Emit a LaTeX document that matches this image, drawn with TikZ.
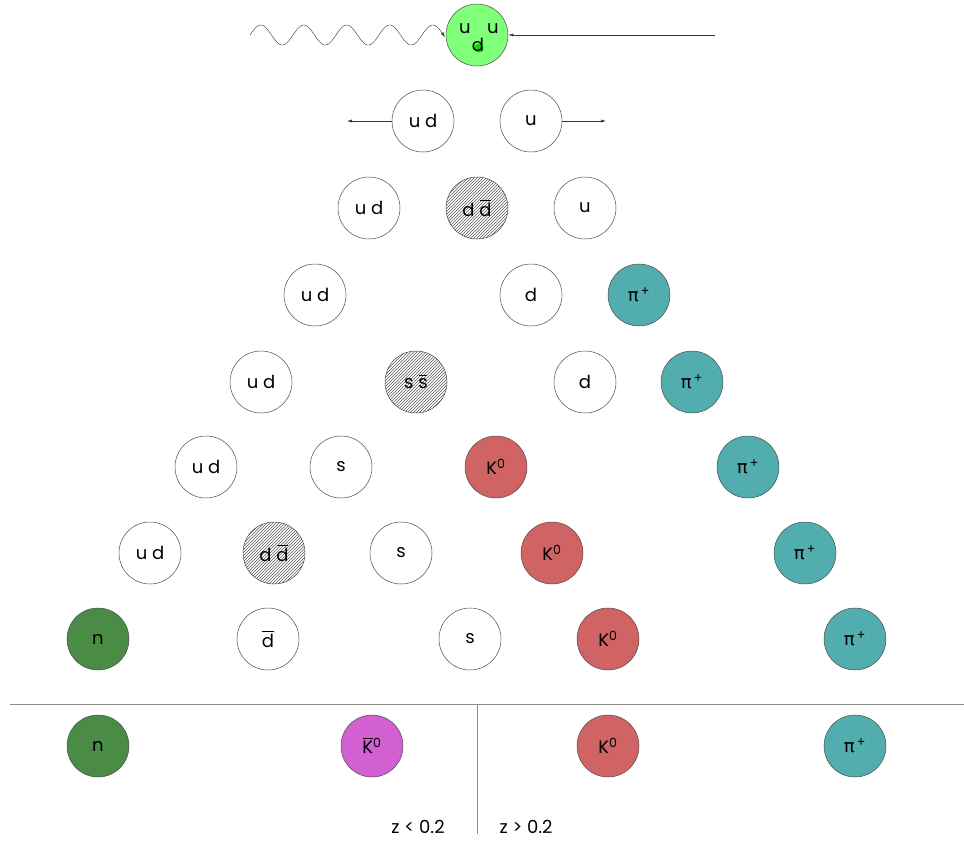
\documentclass[tikz,border=0pt]{standalone}
\usepackage{fontspec}
\setmainfont{Poppins}
\newfontfamily\greekfont{DejaVu Sans}
\usetikzlibrary{patterns}
\usetikzlibrary{arrows.meta}

\definecolor{protongreen}{RGB}{128,255,122}
\definecolor{dotgreen}{RGB}{0,220,0}
\definecolor{neutrongreen}{RGB}{74,140,69}
\definecolor{piontel}{RGB}{82,174,174}
\definecolor{kaonred}{RGB}{208,100,100}
\definecolor{kaonbarmag}{RGB}{210,96,210}

\tikzset{
  hadron/.style={circle, draw=black!70, line width=0.5pt, minimum size=62pt,
    inner sep=0pt, font=\fontsize{18}{18}\selectfont},
  mixed/.style={hadron, pattern=north east lines, pattern color=black!65},
  arr/.style={-{Latex[length=5pt,width=3pt]}, black!80, line width=0.5pt},
  cut/.style={black!45, line width=0.7pt},
  label/.style={font=\fontsize{18}{18}\selectfont}
}

% antiquark bar, set a little above the letter
\newcommand{\anti}[1]{\leavevmode\setbox0\hbox{#1}%
  \rlap{\kern0.5pt\raisebox{\dimexpr\ht0+2.5pt\relax}{\rule{\dimexpr\wd0-1pt\relax}{0.8pt}}}\box0}
\newcommand{\piplus}{{\greekfont π}\textsuperscript{\,+}}
\newcommand{\kzero}{K\textsuperscript{0}}
\newcommand{\kzerobar}{\anti{K}\textsuperscript{0}}

\begin{document}
\begin{tikzpicture}[x=1pt,y=-1pt]
\useasboundingbox (0,0) rectangle (964,844);

% incoming proton, photon and beam
\node[hadron, fill=protongreen] (p) at (477,35) {};
\fill[dotgreen] (479,48) circle (4.5);
\node[label] (pu1) at (465,29) {u};
\node[label] (pu2) at (493,29) {u};
\node[label] (pd) at (478,45) {d};
\coordinate (beam) at (715,35);
\draw[arr] (beam) -- (p.east);
\draw[arr, line width=0.4pt] plot[domain=250:445, samples=200]
    (\x, {35-10*sin((\x-250)/43*360)});

% string break-up
\node[hadron] (ud1) at (423,121) {u d};
\node[hadron] (u1) at (531,121) {u};
\coordinate (ud1end) at (347,121);
\coordinate (u1end) at (606,121);
\draw[arr] (ud1.west) -- (ud1end);
\draw[arr] (u1.east) -- (u1end);

\node[hadron] (ud2) at (369,208) {u d};
\node[mixed] (dd2) at (477,208) {d \anti{d}};
\node[hadron] (u2) at (585,208) {u};

\node[hadron] (ud3) at (315,295) {u d};
\node[hadron] (d3) at (531,295) {d};
\node[hadron, fill=piontel] (pi3) at (639,295) {\piplus};

\node[hadron] (ud4) at (261,382) {u d};
\node[mixed] (ss4) at (416,382) {s \anti{s}};
\node[hadron] (d4) at (585,382) {d};
\node[hadron, fill=piontel] (pi4) at (692,382) {\piplus};

\node[hadron] (ud5) at (206,467) {u d};
\node[hadron] (s5) at (341,467) {s};
\node[hadron, fill=kaonred] (k5) at (496,467) {\kzero};
\node[hadron, fill=piontel] (pi5) at (748,467) {\piplus};

\node[hadron] (ud6) at (150,553) {u d};
\node[mixed] (dd6) at (274,553) {d \anti{d}};
\node[hadron] (s6) at (401,553) {s};
\node[hadron, fill=kaonred] (k6) at (552,553) {\kzero};
\node[hadron, fill=piontel] (pi6) at (805,553) {\piplus};

\node[hadron, fill=neutrongreen] (n7) at (98,639) {n};
\node[hadron] (db7) at (268,639) {\anti{d}};
\node[hadron] (s7) at (470,639) {s};
\node[hadron, fill=kaonred] (k7) at (608,639) {\kzero};
\node[hadron, fill=piontel] (pi7) at (855,639) {\piplus};

% final state
\coordinate (cutl) at (10,704);
\coordinate (cutr) at (964,704);
\coordinate (zcut) at (477,704);
\coordinate (zend) at (477,834);
\draw[cut] (cutl) -- (cutr);
\draw[cut] (zcut) -- (zend);

\node[hadron, fill=neutrongreen] (n8) at (98,746) {n};
\node[hadron, fill=kaonbarmag] (kb8) at (372,746) {\kzerobar};
\node[hadron, fill=kaonred] (k8) at (608,746) {\kzero};
\node[hadron, fill=piontel] (pi8) at (855,746) {\piplus};

\node[label] (zlow) at (418,827) {z < 0.2};
\node[label] (zhigh) at (526,827) {z > 0.2};
\end{tikzpicture}
\end{document}
